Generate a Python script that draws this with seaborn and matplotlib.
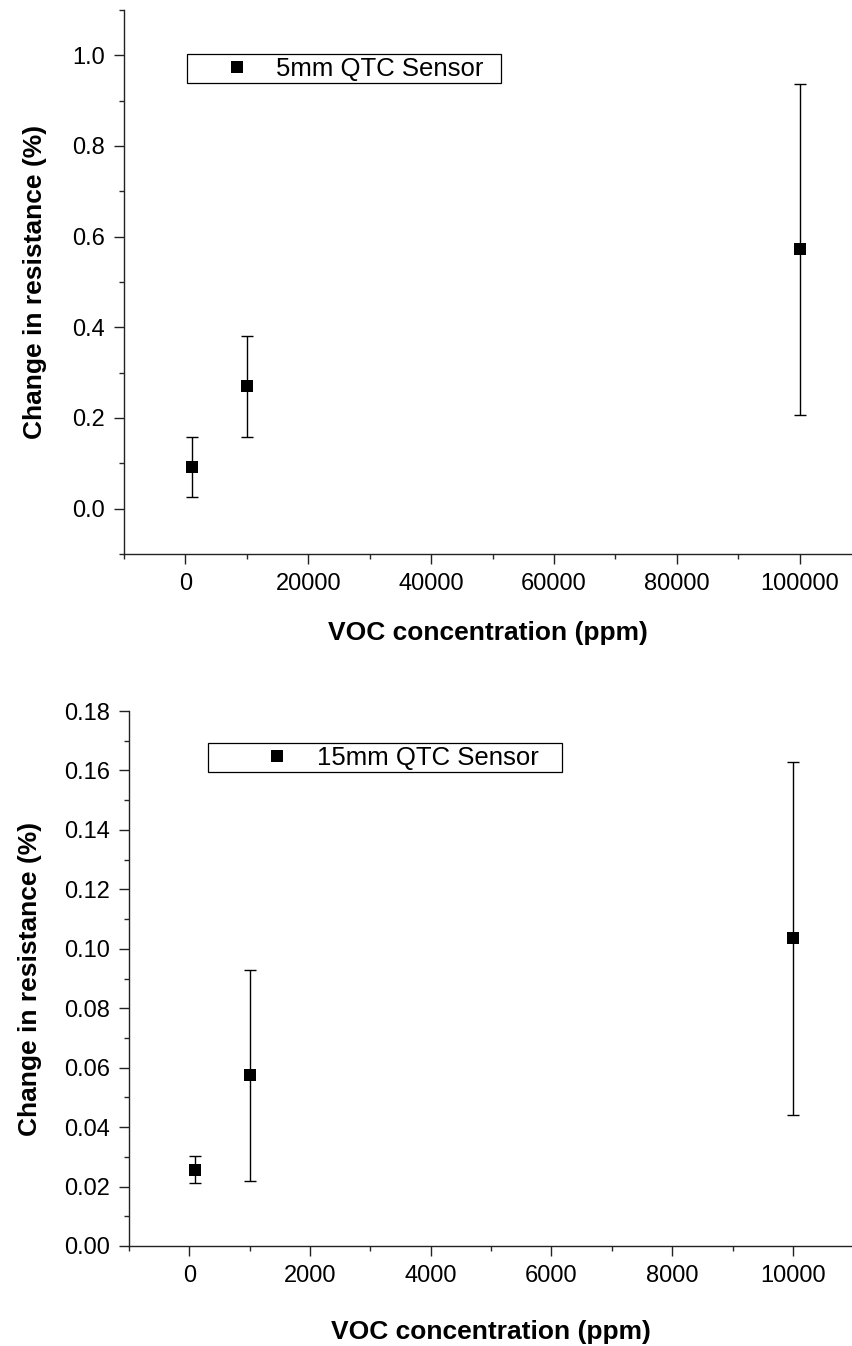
import numpy as np
import pandas as pd
import matplotlib
matplotlib.use("Agg")
import matplotlib.pyplot as plt
import seaborn as sns
from matplotlib.ticker import AutoMinorLocator, FormatStrFormatter

# datos
conc_5mm = [1000, 10000, 100000]
resp_5mm = [0.091, 0.270, 0.572]
err_5mm = [0.066, 0.111, 0.365]

conc_15mm = [100, 1000, 10000]
resp_15mm = [0.0257, 0.0575, 0.1035]
err_15mm = [0.0046, 0.0355, 0.0595]

labels = ["5mm QTC Sensor", "15mm QTC Sensor"]

sns.set_theme(style="ticks")
plt.rcParams["font.family"] = ["Liberation Sans", "DejaVu Sans"]
plt.rcParams["text.color"] = "black"
plt.rcParams["axes.labelcolor"] = "black"
plt.rcParams["axes.linewidth"] = 1.0
plt.rcParams["xtick.major.width"] = 1.0
plt.rcParams["ytick.major.width"] = 1.0
plt.rcParams["xtick.minor.width"] = 1.0
plt.rcParams["ytick.minor.width"] = 1.0
plt.rcParams["xtick.major.size"] = 7.5
plt.rcParams["ytick.major.size"] = 7.5
plt.rcParams["xtick.minor.size"] = 3.8
plt.rcParams["ytick.minor.size"] = 3.8
plt.rcParams["xtick.direction"] = "out"
plt.rcParams["ytick.direction"] = "out"
plt.rcParams["axes.edgecolor"] = "#222222"

fig = plt.figure(figsize=(8.52, 13.46), dpi=100)
ax1 = fig.add_axes([124/852, 1-554/1346, 1-124/852, 544/1346])
ax2 = fig.add_axes([129/852, 1-1246/1346, 1-129/852, 535/1346])

panels = [
    (ax1, conc_5mm, resp_5mm, err_5mm, labels[0]),
    (ax2, conc_15mm, resp_15mm, err_15mm, labels[1]),
]

for ax, x, y, e, lab in panels:
    df = pd.DataFrame({"x": x, "y": y, "sensor": lab})
    ax.errorbar(df["x"], df["y"], yerr=e, fmt="none", ecolor="black",
                elinewidth=1.0, capsize=4, capthick=1.0, zorder=2)
    sns.scatterplot(data=df, x="x", y="y", marker="s", s=80, color="black",
                    edgecolor="black", linewidth=0, label=lab, ax=ax, zorder=3)
    sns.despine(ax=ax)
    ax.tick_params(labelsize=17, colors="#222222", labelcolor="black", pad=6)
    ax.xaxis.set_minor_locator(AutoMinorLocator(2))
    ax.yaxis.set_minor_locator(AutoMinorLocator(2))
    ax.set_xlabel("VOC concentration (ppm)", fontsize=19, fontweight="bold", color="black")
    ax.set_ylabel("Change in resistance (%)", fontsize=19, fontweight="bold", color="black")

# panel superior
ax1.set_xlim(-10000, 108500)
ax1.set_ylim(-0.1, 1.1)
ax1.set_xticks(np.arange(0, 100001, 20000))
ax1.set_yticks(np.arange(0, 1.01, 0.2))
ax1.yaxis.set_major_formatter(FormatStrFormatter("%.1f"))
ax1.xaxis.set_label_coords(0.5, -0.124)
ax1.yaxis.set_label_coords(-0.106, 0.5)
leg1 = ax1.legend(loc="upper left", bbox_to_anchor=(0.0865, 0.857, 0.431, 0.062),
                  mode="expand", borderaxespad=0, borderpad=0.1, handlelength=3.7,
                  handletextpad=-0.34, fontsize=18.5, frameon=True, fancybox=False,
                  edgecolor="black", framealpha=1, scatteryoffsets=[0.5])
leg1.get_frame().set_linewidth(0.9)

# panel inferior
ax2.set_xlim(-1000, 10980)
ax2.set_ylim(0, 0.18)
ax2.set_xticks(np.arange(0, 10001, 2000))
ax2.set_yticks(np.arange(0, 0.181, 0.02))
ax2.yaxis.set_major_formatter(FormatStrFormatter("%.2f"))
ax2.xaxis.set_label_coords(0.5, -0.138)
ax2.yaxis.set_label_coords(-0.12, 0.5)
leg2 = ax2.legend(loc="upper left", bbox_to_anchor=(0.109, 0.8785, 0.4896, 0.0615),
                  mode="expand", borderaxespad=0, borderpad=0.1, handlelength=5.16,
                  handletextpad=-1.02, fontsize=18.5, frameon=True, fancybox=False,
                  edgecolor="black", framealpha=1, scatteryoffsets=[0.5])
leg2.get_frame().set_linewidth(0.9)

plt.savefig("out.png", dpi=100)
